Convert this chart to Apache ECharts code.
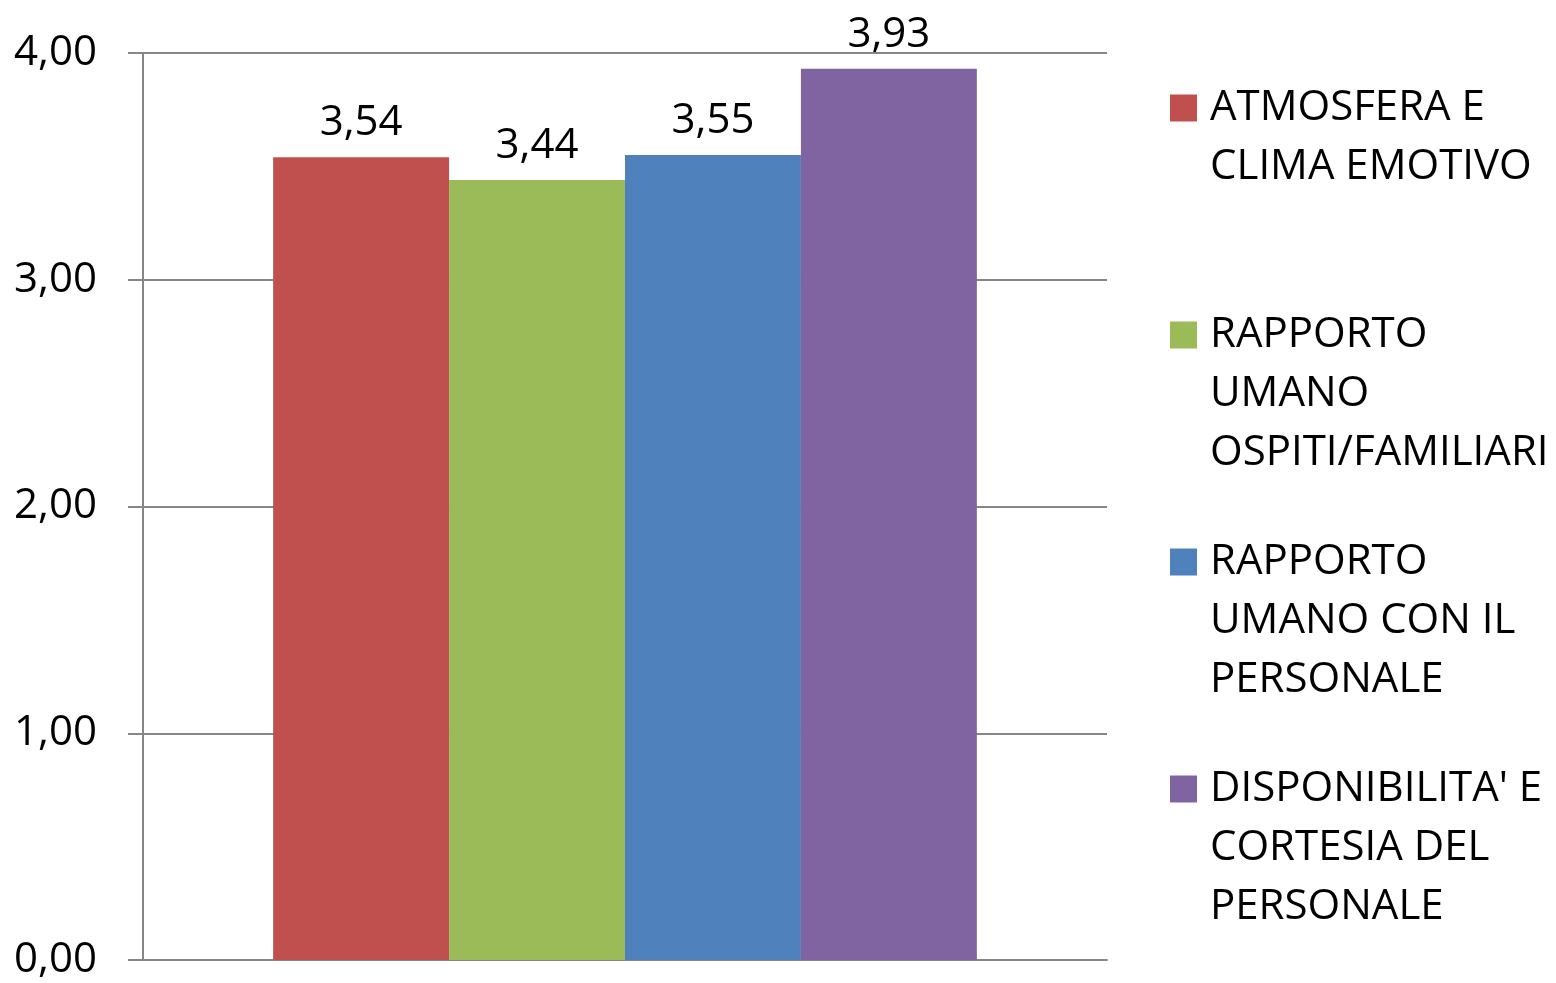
<!DOCTYPE html>
<html>
<head>
<meta charset="utf-8">
<script src="https://cdn.jsdelivr.net/npm/echarts@6/dist/echarts.min.js"></script>
<style>
  html, body { margin: 0; padding: 0; background: #ffffff; }
  #chart { width: 1556px; height: 983px; }
</style>
</head>
<body>
<div id="chart"></div>
<script>
// Survey averages, one bar per area
const seriesNames = [
  "ATMOSFERA E CLIMA EMOTIVO",
  "RAPPORTO UMANO OSPITI/FAMILIARI",
  "RAPPORTO UMANO CON IL PERSONALE",
  "DISPONIBILITA' E CORTESIA DEL PERSONALE"
];
// Legend text broken into lines
const legendLines = [
  ["ATMOSFERA E", "CLIMA EMOTIVO"],
  ["RAPPORTO", "UMANO", "OSPITI/FAMILIARI"],
  ["RAPPORTO", "UMANO CON IL", "PERSONALE"],
  ["DISPONIBILITA' E", "CORTESIA DEL", "PERSONALE"]
];
const values = [3.54, 3.44, 3.55, 3.93];
const colors = ["#C0504D", "#9BBB59", "#4F81BD", "#8064A2"];
const yTickLabels = ["0,00", "1,00", "2,00", "3,00", "4,00"];

const FONT = "Open Sans";
const FS = 42;
const LH = 59;
const gridColor = "#868686";

const chart = echarts.init(document.getElementById("chart"), null, { renderer: "canvas" });

// One legend block per series; blank lines above the text keep the
// swatch level with the first line (legend text is centred on the icon)
const legendCenters = [108, 335, 562, 789];
const legends = seriesNames.map((name, i) => {
  const n = legendLines[i].length;
  const text = "\n".repeat(n - 1) + legendLines[i].join("\n");
  const boxH = (2 * n - 1) * LH;
  return {
    data: [name],
    orient: "vertical",
    left: 1170,
    top: legendCenters[i] - boxH / 2,
    padding: 0,
    itemWidth: 27,
    itemHeight: 27,
    icon: "rect",
    selectedMode: false,
    formatter: () => text,
    textStyle: {
      fontFamily: FONT,
      fontSize: FS,
      lineHeight: LH,
      color: "#000000",
      padding: [0, 0, 0, 8]
    }
  };
});

const option = {
  backgroundColor: "#ffffff",
  animation: false,
  color: colors,
  legend: legends,
  grid: { left: 143, right: 449, top: 53, bottom: 23, containLabel: false },
  xAxis: {
    type: "category",
    data: [""],
    axisLine: { show: true, lineStyle: { color: gridColor, width: 2 } },
    axisTick: { show: false },
    axisLabel: { show: false },
    splitLine: { show: false }
  },
  yAxis: {
    type: "value",
    min: 0,
    max: 4,
    interval: 1,
    axisLine: { show: true, lineStyle: { color: gridColor, width: 2 } },
    axisTick: { show: true, length: 15, lineStyle: { color: gridColor, width: 2 } },
    splitLine: { show: true, lineStyle: { color: gridColor, width: 2 } },
    axisLabel: {
      margin: 46,
      fontFamily: FONT,
      fontSize: FS,
      color: "#000000",
      padding: [4, 0, 0, 0],
      formatter: (v) => yTickLabels[Math.round(v)]
    }
  },
  series: seriesNames.map((name, i) => ({
    name: name,
    type: "bar",
    data: [values[i]],
    barGap: "0%",
    barCategoryGap: "27%",
    itemStyle: { color: colors[i] },
    label: {
      show: true,
      position: "top",
      distance: 13,
      fontFamily: FONT,
      fontSize: FS,
      color: "#000000",
      formatter: (p) => p.value.toFixed(2).replace(".", ",")
    }
  }))
};

chart.setOption(option);
</script>
</body>
</html>
